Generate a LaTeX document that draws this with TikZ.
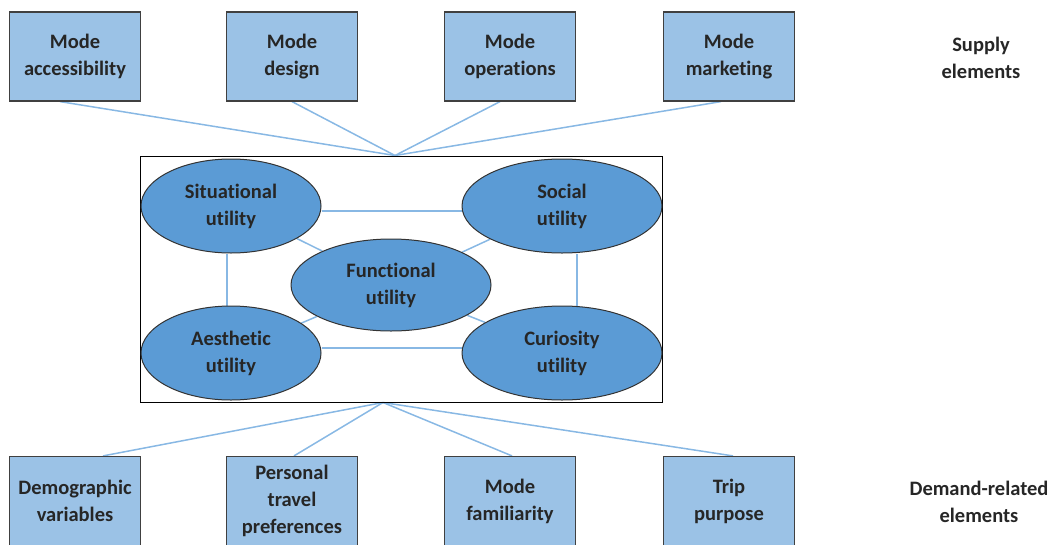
\documentclass[tikz,border=0pt]{standalone}
\usepackage{fontspec}
\setmainfont{Carlito}[Ligatures=NoCommon]
\usetikzlibrary{shapes.geometric,backgrounds}
\definecolor{boxfill}{RGB}{155,194,230}
\definecolor{boxline}{RGB}{64,64,64}
\definecolor{ellfill}{RGB}{91,155,213}
\definecolor{linkcol}{RGB}{136,184,228}
\tikzset{
  lbl/.style={font=\fontsize{20.5}{27}\selectfont\bfseries, align=center, text=black!85},
  elembox/.style={lbl, rectangle, draw=boxline, line width=1.2pt, fill=boxfill,
    minimum width=131pt, minimum height=89pt, inner sep=0pt,
    execute at begin node={\rule{0pt}{20pt}}},
  utilell/.style={lbl, ellipse, draw=black!80, line width=1pt, fill=ellfill, inner sep=0pt,
    execute at begin node={\rule{0pt}{21.5pt}}},
  link/.style={draw=linkcol, line width=1.5pt},
  side/.style={lbl}
}
\begin{document}
\begin{tikzpicture}[x=1pt,y=-1pt]
\useasboundingbox (0,0) rectangle (1051,544);

% supply-side boxes
\node[elembox] (acc) at (75,56.5) {Mode\\accessibility};
\node[elembox] (des) at (292,56.5) {Mode\\design};
\node[elembox] (ops) at (510,56.5) {Mode\\operations};
\node[elembox] (mkt) at (729,56.5) {Mode\\marketing};
\node[side] (supply) at (981,58) {Supply\\elements};

% utility cluster
\node[draw=black, line width=1pt, minimum width=522pt, minimum height=246pt,
  inner sep=0pt] (frame) at (401,279) {};
\node[utilell, minimum width=180pt, minimum height=94pt] (sit) at (231,206) {Situational\\utility};
\node[utilell, minimum width=200pt, minimum height=94pt] (soc) at (562,206) {Social\\utility};
\node[utilell, minimum width=200pt, minimum height=92pt] (fun) at (391,285) {Functional\\utility};
\node[utilell, minimum width=180pt, minimum height=94pt] (aes) at (231,353) {Aesthetic\\utility};
\node[utilell, minimum width=200pt, minimum height=94pt] (cur) at (562,353) {Curiosity\\utility};

% demand-side boxes
\node[elembox] (dem) at (75,501) {Demographic\\variables};
\node[elembox] (per) at (292,501) {Personal\\travel\\preferences};
\node[elembox] (fam) at (510,501) {Mode\\familiarity};
\node[elembox] (trp) at (729,501) {Trip\\purpose};
\node[side] (demand) at (979,502) {Demand-related\\elements};

\coordinate (hubtop) at ([xshift=-6pt]frame.north);
\coordinate (hubbot) at ([xshift=-18pt]frame.south);

\begin{scope}[on background layer]
  % supply links
  \draw[link] ([xshift=-15pt]acc.south) -- (hubtop);
  \draw[link] (des.south) -- (hubtop);
  \draw[link] ([xshift=-10pt]ops.south) -- (hubtop);
  \draw[link] ([xshift=-8pt]mkt.south) -- (hubtop);
  % demand links
  \draw[link] (hubbot) -- ([xshift=28pt]dem.north);
  \draw[link] (hubbot) -- ([xshift=2pt]per.north);
  \draw[link] (hubbot) -- ([xshift=2pt]fam.north);
  \draw[link] (hubbot) -- ([xshift=4pt]trp.north);
  % links between utilities
  \draw[link] ([yshift=-5pt]sit.east) -- ([yshift=-5pt]soc.west);
  \draw[link] ([yshift=5pt]aes.east) -- ([yshift=5pt]cur.west);
  \draw[link] ([xshift=-4pt]sit.south) -- ([xshift=-4pt]aes.north);
  \draw[link] ([xshift=15pt]soc.south) -- ([xshift=15pt]cur.north);
  \draw[link] (sit) -- (fun);
  \draw[link] (soc) -- (fun);
  \draw[link] (aes) -- (fun);
  \draw[link] (cur) -- (fun);
\end{scope}
\end{tikzpicture}
\end{document}
